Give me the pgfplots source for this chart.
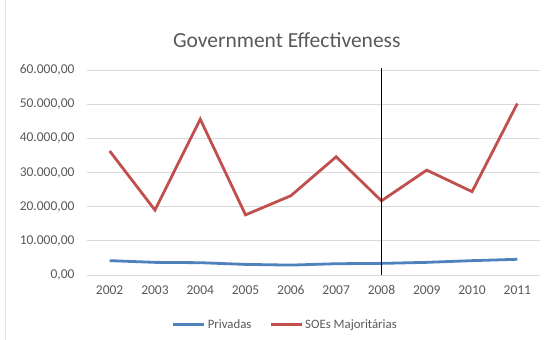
\documentclass[border=0pt]{standalone}
\usepackage{pgfplots}
\pgfplotsset{compat=1.18}
\usepackage{fontspec}
\setmainfont{Carlito}
\definecolor{xlblue}{HTML}{4F81BD}
\definecolor{xlred}{HTML}{C0504D}
\definecolor{tickgray}{HTML}{595959}
\definecolor{gridgray}{HTML}{D9D9D9}
\begin{document}
\begin{tikzpicture}
\path[use as bounding box] (-87bp,-65bp) rectangle (473bp,275bp);
\draw[gridgray!70, line width=0.8bp] (-82bp,-65bp) -- (-82bp,275bp);
\begin{axis}[
  at={(0,0)}, anchor=south west,
  scale only axis, width=453bp, height=205bp,
  xmin=-0.5, xmax=9.5, ymin=0, ymax=60000,
  xtick={0,...,9},
  xticklabels={2002,2003,2004,2005,2006,2007,2008,2009,2010,2011},
  ytick={0,10000,...,60000},
  scaled y ticks=false,
  yticklabels={{0,00},{10.000,00},{20.000,00},{30.000,00},{40.000,00},{50.000,00},{60.000,00}},
  ymajorgrids, grid style={gridgray, line width=0.8bp},
  axis line style={draw=none},
  axis x line*=bottom,
  major tick length=0pt,
  tick label style={font=\fontsize{13.5bp}{15bp}\selectfont, text=tickgray},
  xticklabel style={yshift=-7bp},
  yticklabel style={xshift=-9bp},
  title={Government Effectiveness},
  title style={at={(0.441,1)}, font=\fontsize{21.5bp}{24bp}\selectfont, text=tickgray, yshift=13bp},
  clip=false,
  legend style={at={(0.438,-0.195)}, anchor=north, draw=none, legend columns=2,
    font=\fontsize{12.8bp}{14bp}\selectfont, text=tickgray,
    /tikz/every even column/.append style={column sep=16bp}},
  legend image code/.code={\draw[#1, line width=2.8bp] (0bp,0bp) -- (31bp,0bp);},
]
\addplot[xlblue, line width=2.8bp] coordinates {
(0,4200) (1,3700) (2,3600) (3,3100) (4,2900) (5,3300) (6,3400) (7,3700) (8,4200) (9,4600)};
\addlegendentry{Privadas}
\addplot[xlred, line width=2.8bp] coordinates {
(0,36300) (1,19000) (2,45600) (3,17600) (4,23200) (5,34600) (6,21700) (7,30700) (8,24400) (9,50200)};
\addlegendentry{SOEs Majoritárias}
\addplot[black, line width=1bp, forget plot] coordinates {(6,0) (6,60600)};
\end{axis}
\end{tikzpicture}
\end{document}
